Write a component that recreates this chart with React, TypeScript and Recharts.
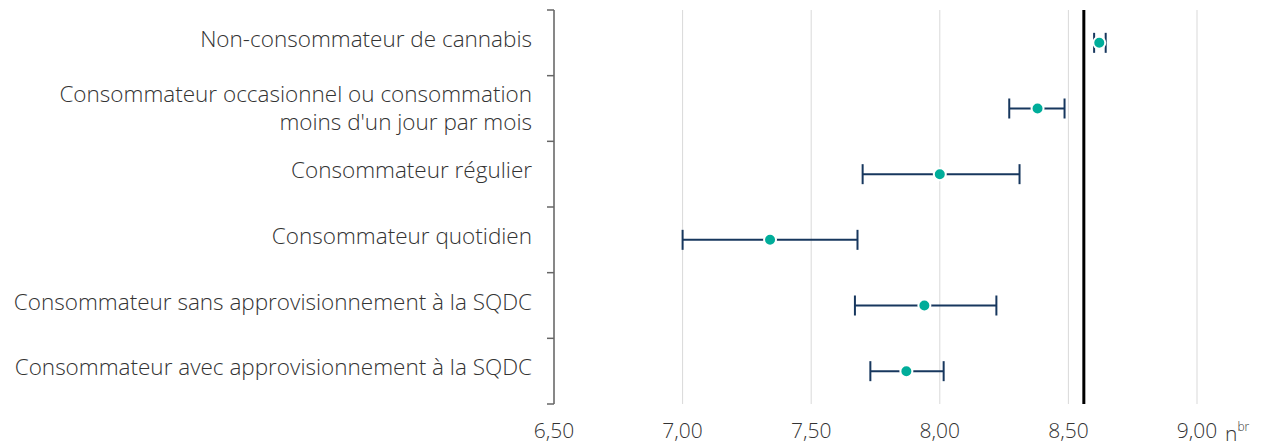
import {
  ScatterChart,
  Scatter,
  XAxis,
  YAxis,
  CartesianGrid,
  ErrorBar,
  ReferenceLine,
  Label,
} from 'recharts'

const categories = [
  'Non-consommateur de cannabis',
  "Consommateur occasionnel ou consommation\nmoins d'un jour par mois",
  'Consommateur régulier',
  'Consommateur quotidien',
  'Consommateur sans approvisionnement à la SQDC',
  'Consommateur avec approvisionnement à la SQDC',
]
const means = [8.62, 8.38, 8.0, 7.34, 7.94, 7.87]
const lower = [8.6, 8.27, 7.7, 7.0, 7.67, 7.73]
const upper = [8.645, 8.485, 8.31, 7.68, 8.22, 8.015]
const overallMean = 8.56
const xTicks = [6.5, 7.0, 7.5, 8.0, 8.5, 9.0]

const FONT = "'Open Sans', 'Noto Sans', sans-serif"
const TEXT_COLOR = '#333333'
const POINT_COLOR = '#00ad9a'
const BAR_COLOR = '#17375e'

const data = categories.map((name, i) => ({
  name,
  pos: i + 0.5,
  value: means[i],
  err: [means[i] - lower[i], upper[i] - means[i]],
}))

// band edges get a tick mark, band centres get the category label
const yTicks: number[] = []
for (let i = 0; i <= categories.length * 2; i++) yTicks.push(i / 2)

const CategoryTick = (props: any) => {
  const { x, y, payload } = props
  const v = payload.value
  if (Number.isInteger(v)) {
    return <line x1={x - 7} x2={x} y1={y} y2={y} stroke="#666" strokeWidth={1.5} />
  }
  const lines = categories[Math.floor(v)].split('\n')
  const firstDy = lines.length > 1 ? -7 : 4
  return (
    <text
      x={x - 22}
      y={y}
      textAnchor="end"
      fill={TEXT_COLOR}
      fontSize={22.5}
      fontWeight={300}
      fontFamily={FONT}
    >
      {lines.map((l, i) => (
        <tspan key={i} x={x - 22} dy={i === 0 ? firstDy : 28}>
          {l}
        </tspan>
      ))}
    </text>
  )
}

const NbrLabel = (props: any) => {
  const { viewBox } = props
  return (
    <text
      x={viewBox.x + viewBox.width + 28}
      y={viewBox.y + 37}
      fill={TEXT_COLOR}
      fontSize={21}
      fontWeight={300}
      fontFamily={FONT}
    >
      n<tspan fontSize={12} dy={-10}>br</tspan>
    </text>
  )
}

const Dot = (props: any) => {
  const { cx, cy } = props
  return <circle cx={cx} cy={cy} r={6} fill={POINT_COLOR} stroke="#fff" strokeWidth={2} />
}

export default function App() {
  return (
    <div style={{ width: 1265, height: 438, background: '#fff' }}>
      <ScatterChart
        width={1265}
        height={438}
        margin={{ top: 2, right: 76, bottom: 12, left: 0 }}
      >
        <CartesianGrid horizontal={false} stroke="#d9d9d9" />
        <XAxis
          type="number"
          dataKey="value"
          domain={[6.5, 9.0]}
          ticks={xTicks}
          allowDataOverflow
          axisLine={false}
          tickLine={false}
          tickSize={0}
          tickMargin={19}
          height={30}
          tickFormatter={(v: number) => v.toFixed(2).replace('.', ',')}
          tick={{ fill: TEXT_COLOR, fontSize: 21, fontWeight: 300, fontFamily: FONT }}
        >
          <Label content={NbrLabel} />
        </XAxis>
        <YAxis
          type="number"
          dataKey="pos"
          domain={[0, categories.length]}
          ticks={yTicks}
          interval={0}
          reversed
          width={546}
          tickSize={0}
          tickMargin={0}
          tickLine={false}
          axisLine={{ stroke: '#666', strokeWidth: 1.5 }}
          tick={<CategoryTick />}
        />
        <ReferenceLine x={overallMean} stroke="#000" strokeWidth={3} />
        <Scatter data={data} shape={<Dot />} isAnimationActive={false}>
          <ErrorBar
            dataKey="err"
            direction="x"
            width={10}
            stroke={BAR_COLOR}
            strokeWidth={2}
          />
        </Scatter>
      </ScatterChart>
    </div>
  )
}
